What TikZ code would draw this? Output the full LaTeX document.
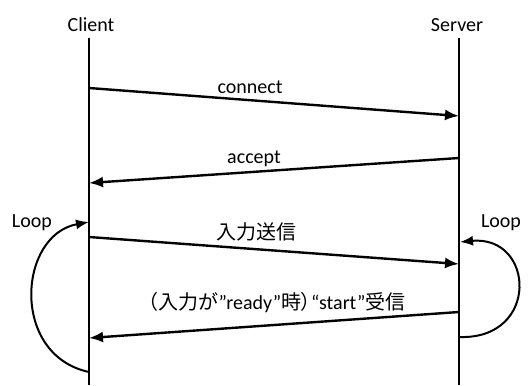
\documentclass[tikz,border=0pt]{standalone}
\usepackage{fontspec}
\setmainfont{Carlito}
\newfontfamily\jpfont{Noto Sans CJK JP}
\newfontfamily\jppfont[RawFeature=+palt]{Noto Sans CJK JP}
\usetikzlibrary{arrows.meta, positioning}

\tikzset{
  lifeline/.style={line width=2.6pt},
  msg/.style={line width=2.4pt, -{Latex[length=14pt, width=11pt]}},
  loopline/.style={line width=2pt, -{Latex[length=13pt, width=10pt]}},
  lbl/.style={font=\fontsize{20}{24}\selectfont, inner sep=0pt}
}

\begin{document}
\begin{tikzpicture}[x=1pt, y=-1pt]

  \useasboundingbox (0,0) rectangle (529,385);

  % 生命線
  \coordinate (cTop) at (89,38);
  \coordinate (cBot) at (89,385);
  \coordinate (sTop) at (459,38);
  \coordinate (sBot) at (459,385);
  \draw[lifeline] (cTop) -- (cBot);
  \draw[lifeline] (sTop) -- (sBot);
  \node[lbl] (client) at (91,25) {Client};
  \node[lbl] (server) at (457,25) {Server};

  % メッセージの端点
  \coordinate (c1) at (89,88);   \coordinate (s1) at (459,116);
  \coordinate (s2) at (459,158); \coordinate (c2) at (89,183);
  \coordinate (c3) at (89,237);  \coordinate (s3) at (459,264);
  \coordinate (s4) at (459,312); \coordinate (c4) at (89,338);

  % connect / accept
  \draw[msg] (c1) -- (s1);
  \node[lbl] (conn) at (250,87) {connect};
  \draw[msg] (s2) -- (c2);
  \node[lbl] (acc) at (254,159) {accept};

  % 入力送信 / start受信
  \draw[msg] (c3) -- (s3);
  \node[lbl] (send) at (256,232) {\jpfont 入力送信};
  \draw[msg] (s4) -- (c4);
  \node[lbl] (recv) at (272,303)
    {{\jpfont （入力が}”ready”{\jpfont 時}{\jppfont ）}“start”{\jpfont 受信}};

  % ループ
  \coordinate (lBot) at (89,372);  \coordinate (lTop) at (89,222);
  \coordinate (rBot) at (459,337); \coordinate (rTop) at (460,242);
  \draw[loopline] (lBot) .. controls (10,355) and (18,235) .. (lTop);
  \draw[loopline] (rBot) .. controls (540,340) and (535,235) .. (rTop);
  \node[lbl] (loopL) at (32,223) {Loop};
  \node[lbl] (loopR) at (501,223) {Loop};

\end{tikzpicture}
\end{document}
